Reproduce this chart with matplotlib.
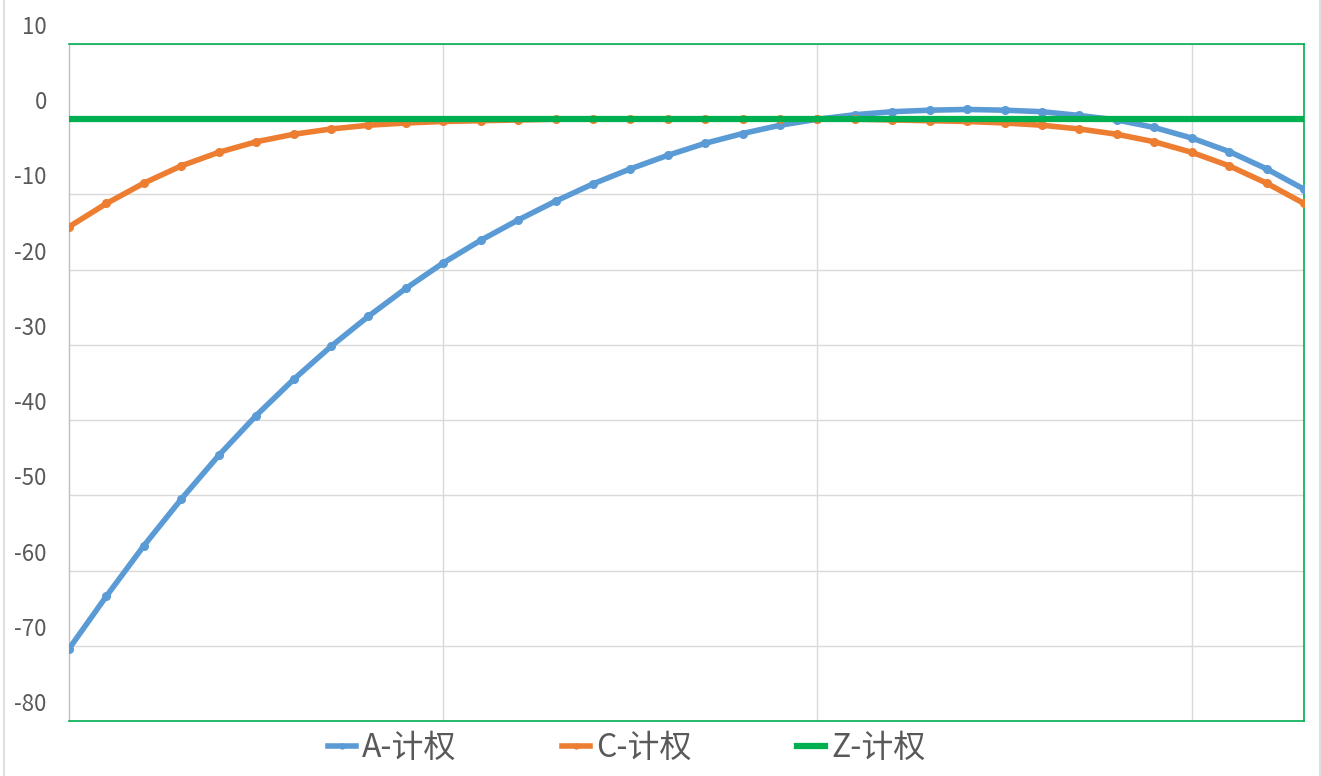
# frequency weighting curves (A / C / Z), 1/3 octave bands 10 Hz - 20 kHz
import matplotlib
matplotlib.use('Agg')
from matplotlib import pyplot as plt
from matplotlib.lines import Line2D
from matplotlib.transforms import ScaledTranslation

plt.rcParams['font.family'] = ['Noto Sans CJK SC', 'DejaVu Sans']
plt.rcParams['axes.unicode_minus'] = False

# band centre frequencies (category axis, labels not shown in the chart)
bands = ['10', '12.5', '16', '20', '25', '31.5', '40', '50', '63', '80',
         '100', '125', '160', '200', '250', '315', '400', '500', '630', '800',
         '1000', '1250', '1600', '2000', '2500', '3150', '4000', '5000', '6300', '8000',
         '10000', '12500', '16000', '20000']

a_weight = [-70.4, -63.4, -56.7, -50.5, -44.7, -39.4, -34.6, -30.2, -26.2, -22.5,
            -19.1, -16.1, -13.4, -10.9, -8.6, -6.6, -4.8, -3.2, -1.9, -0.8,
            0.0, 0.6, 1.0, 1.2, 1.3, 1.2, 1.0, 0.5, -0.1, -1.1,
            -2.5, -4.3, -6.6, -9.3]

c_weight = [-14.3, -11.2, -8.5, -6.2, -4.4, -3.0, -2.0, -1.3, -0.8, -0.5,
            -0.3, -0.2, -0.1, 0.0, 0.0, 0.0, 0.0, 0.0, 0.0, 0.0,
            0.0, 0.0, -0.1, -0.2, -0.3, -0.5, -0.8, -1.3, -2.0, -3.0,
            -4.4, -6.2, -8.5, -11.2]

z_weight = [0.0] * len(bands)

series_names = ['A-计权', 'C-计权', 'Z-计权']
y_ticks = [10, 0, -10, -20, -30, -40, -50, -60, -70, -80]

fig = plt.figure(figsize=(13.21, 7.76), dpi=100)
W, H = 1321, 776
ax = fig.add_axes([69 / W, (H - 721) / H, 1235 / W, 677 / H])

x = list(range(len(bands)))
blue, orange, green = '#5B9BD5', '#ED7D31', '#00B050'

ax.plot(x, a_weight, color=blue, lw=4.0, marker='o', ms=5.5, label=series_names[0],
        solid_capstyle='round', zorder=3)
ax.plot(x, c_weight, color=orange, lw=4.0, marker='o', ms=5.5, label=series_names[1],
        solid_capstyle='round', zorder=3)
ax.plot(x, z_weight, color=green, lw=4.5, label=series_names[2], zorder=4)

ax.set_xlim(0, len(bands) - 1)
ax.set_ylim(-80, 10)
ax.set_xticks([10, 20, 30])
ax.set_yticks(y_ticks)
ax.set_xticklabels([])
ax.grid(True, color='#D9D9D9', lw=1.0, zorder=0)
ax.tick_params(axis='both', length=0)
ax.tick_params(axis='y', pad=16, labelsize=16, labelcolor='#595959')

for side in ['top', 'right', 'bottom']:
    ax.spines[side].set_color(green)
    ax.spines[side].set_linewidth(1.2)
ax.spines['left'].set_color('#BFBFBF')
ax.spines['left'].set_linewidth(1.0)

# the value labels sit a bit above their gridlines in the original
shift = ScaledTranslation(0, 0.19, fig.dpi_scale_trans)
for lbl in ax.get_yticklabels():
    lbl.set_transform(lbl.get_transform() + shift)

handles = [Line2D([], [], color=blue, lw=4.0, marker='o', ms=3.5),
           Line2D([], [], color=orange, lw=4.0, marker='o', ms=3.5),
           Line2D([], [], color=green, lw=4.5)]
leg = fig.legend(handles, series_names, loc='center', ncol=3,
                 bbox_to_anchor=(627 / W, 1 - 748 / H), frameon=False,
                 fontsize=23, handlelength=0.87, handletextpad=0.2,
                 columnspacing=3.3, borderpad=0)
for t in leg.get_texts():
    t.set_color('#595959')

# outer chart frame (light gray sides)
fig.add_artist(Line2D([4 / W, 4 / W], [0, 1], color='#D9D9D9', lw=1.2))
fig.add_artist(Line2D([1320 / W, 1320 / W], [0, 1], color='#D9D9D9', lw=1.2))

fig.savefig('out.png', dpi=100)
